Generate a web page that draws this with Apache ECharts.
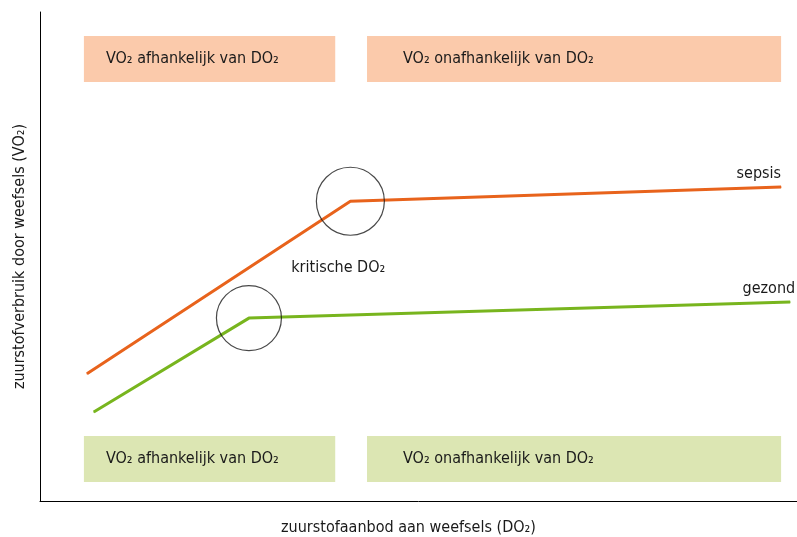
<!DOCTYPE html>
<html>
<head>
<meta charset="utf-8">
<script src="https://cdn.jsdelivr.net/npm/echarts@6/dist/echarts.min.js"></script>
<style>
  html, body { margin: 0; padding: 0; background: #fff; }
  #chart { width: 797px; height: 537px; }
</style>
</head>
<body>
<div id="chart"></div>
<script>
// data (arbitrary units, axes 0-100)
var sepsisX = [6.2, 41.0, 97.9];
var sepsisY = [26.0, 61.3, 64.2];
var gezondX = [7.1, 27.6, 99.1];
var gezondY = [18.2, 37.4, 40.7];

// zones: [x0, x1]
var zoneLeft = [5.8, 39.0];
var zoneRight = [43.2, 97.9];
var topBand = [85.7, 95.1];
var bottomBand = [3.9, 13.3];

var labelDep = 'VO₂ afhankelijk van DO₂';
var labelIndep = 'VO₂ onafhankelijk van DO₂';
var xTitle = 'zuurstofaanbod aan weefsels (DO₂)';
var yTitle = 'zuurstofverbruik door weefsels (VO₂)';

var fontFam = '"Liberation Sans Narrow", "DejaVu Sans Condensed", "Noto Sans", sans-serif';
var orange = '#e8631c';
var green = '#78b51e';
var txtColor = '#1a1a1a';

function pairs(xs, ys) {
    var out = [];
    for (var i = 0; i < xs.length; i++) out.push([xs[i], ys[i]]);
    return out;
}

function zone(x, y, txt, pad) {
    return [{
        xAxis: x[0], yAxis: y[0],
        label: { show: true, position: 'insideLeft', distance: pad, formatter: txt }
    }, { xAxis: x[1], yAxis: y[1] }];
}

// label only on the last point of a line
function withEndLabel(pts, txt, dx) {
    return pts.map(function (p, i) {
        if (i < pts.length - 1) return p;
        return { value: p, label: { show: true, position: 'top', align: 'right', distance: 5,
            offset: [dx, 0], formatter: txt, color: txtColor, fontSize: 16, fontFamily: fontFam } };
    });
}

var sepsis = pairs(sepsisX, sepsisY);
var gezond = pairs(gezondX, gezondY);

var lineChart = echarts.init(document.getElementById('chart'));
var option = {
    animation: false,
    grid: { left: 40, right: 0, top: 12, bottom: 36, outerBoundsMode: 'none', containLabel: false },
    xAxis: {
        type: 'value', min: 0, max: 100,
        name: xTitle, nameLocation: 'middle', nameGap: 19,
        nameTextStyle: { color: txtColor, fontSize: 16, fontFamily: fontFam, padding: [0, 20, 0, 0] },
        axisLine: { show: true, lineStyle: { color: '#000', width: 1 } },
        axisTick: { show: false }, axisLabel: { show: false }, splitLine: { show: false }
    },
    yAxis: {
        type: 'value', min: 0, max: 100,
        name: yTitle, nameLocation: 'middle', nameGap: 12, nameRotate: 90,
        nameTextStyle: { color: txtColor, fontSize: 16, fontFamily: fontFam },
        axisLine: { show: true, lineStyle: { color: '#000', width: 1 } },
        axisTick: { show: false }, axisLabel: { show: false }, splitLine: { show: false }
    },
    series: [
        {
            name: 'zones top', type: 'line', data: [], silent: true,
            markArea: {
                silent: true,
                itemStyle: { color: '#fbcaab' },
                label: { color: txtColor, fontSize: 16, fontFamily: fontFam },
                data: [zone(zoneLeft, topBand, labelDep, 22), zone(zoneRight, topBand, labelIndep, 36)]
            }
        },
        {
            name: 'zones bottom', type: 'line', data: [], silent: true,
            markArea: {
                silent: true,
                itemStyle: { color: '#dce6b3' },
                label: { color: txtColor, fontSize: 16, fontFamily: fontFam },
                data: [zone(zoneLeft, bottomBand, labelDep, 22), zone(zoneRight, bottomBand, labelIndep, 36)]
            }
        },
        {
            name: 'sepsis', type: 'line', z: 3,
            symbol: 'circle', symbolSize: 1, showSymbol: true, showAllSymbol: true,
            itemStyle: { color: orange },
            lineStyle: { color: orange, width: 3 },
            data: withEndLabel(sepsis, 'sepsis', 0),
            markPoint: {
                symbol: 'circle', symbolSize: 0, silent: true,
                label: { show: true, position: 'inside', color: txtColor, fontSize: 16, fontFamily: fontFam },
                data: [{ coord: [39.4, 47.6], value: 'kritische DO₂' }]
            }
        },
        {
            name: 'gezond', type: 'line', z: 3,
            symbol: 'circle', symbolSize: 1, showSymbol: true, showAllSymbol: true,
            itemStyle: { color: green },
            lineStyle: { color: green, width: 3 },
            data: withEndLabel(gezond, 'gezond', 5)
        },
        {
            name: 'kritisch', type: 'scatter', z: 4, silent: true,
            symbol: 'circle',
            itemStyle: { color: 'rgba(0,0,0,0)', borderColor: '#1a1a1a', borderWidth: 1.2 },
            data: [
                { value: sepsis[1], symbolSize: 68 },
                { value: gezond[1], symbolSize: 65 }
            ]
        }
    ]
};
lineChart.setOption(option);
window.onresize = lineChart.resize;
</script>
</body>
</html>
